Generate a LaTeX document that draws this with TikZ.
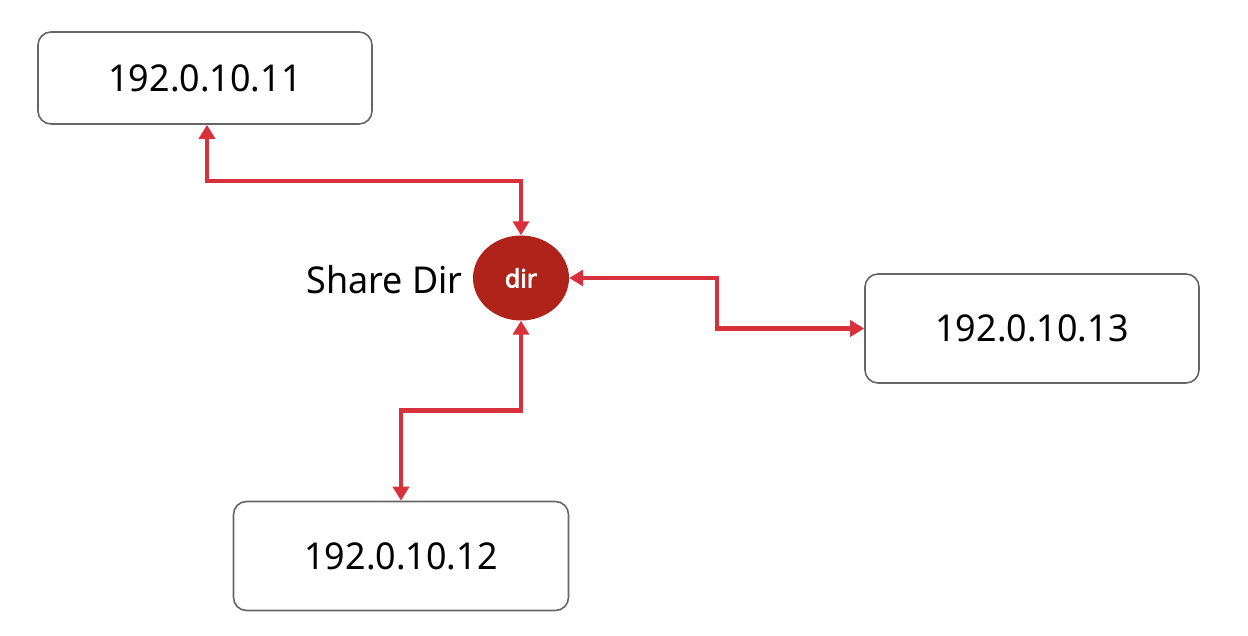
\documentclass[tikz,border=0pt]{standalone}
\usepackage{fontspec}
\setmainfont{Noto Sans}[FakeStretch=0.97]
\newfontfamily\dirfont{Noto Sans}[FakeBold=3]
\usetikzlibrary{arrows.meta,shapes.geometric}
\definecolor{connred}{HTML}{D9313C}
\definecolor{dirred}{HTML}{B0231B}
\definecolor{boxgray}{HTML}{666666}
\tikzset{
  hostbox/.style={draw=boxgray, line width=1.6pt, rounded corners=13pt, fill=white,
    inner sep=0pt, font=\fontsize{37}{40}\selectfont},
  conn/.style={draw=connred, line width=4.5pt, {Triangle[length=14pt,width=16pt]}-{Triangle[length=14pt,width=16pt]}},
  dirnode/.style={ellipse, fill=dirred, minimum width=96pt, minimum height=85pt, inner sep=0pt,
    text=white, font=\dirfont\fontsize{25}{28}\selectfont},
  lbl/.style={font=\fontsize{37}{40}\selectfont, inner sep=0pt}
}
\begin{document}
\begin{tikzpicture}[x=1pt,y=1pt]
\useasboundingbox (0,0) rectangle (1248,-636);
\node[hostbox, minimum width=334pt, minimum height=92pt] (h11) at (205,-78) {192.0.10.11};
\node[hostbox, minimum width=335pt, minimum height=109pt] (h12) at (401,-556) {192.0.10.12};
\node[hostbox, minimum width=334pt, minimum height=109pt] (h13) at (1032,-328.5) {192.0.10.13};
\node[dirnode] (dir) at (521,-278) {dir};
\node[lbl, anchor=east] (share) at (463,-280) {Share Dir};
\draw[conn] ([xshift=2pt]h11.south) -- ++(0,-56) -| (dir.north);
\draw[conn] (dir.south) -- ++(0,-90) -| (h12.north);
\draw[conn] (dir.east) -- ++(148,0) |- (h13.west);
\end{tikzpicture}
\end{document}
